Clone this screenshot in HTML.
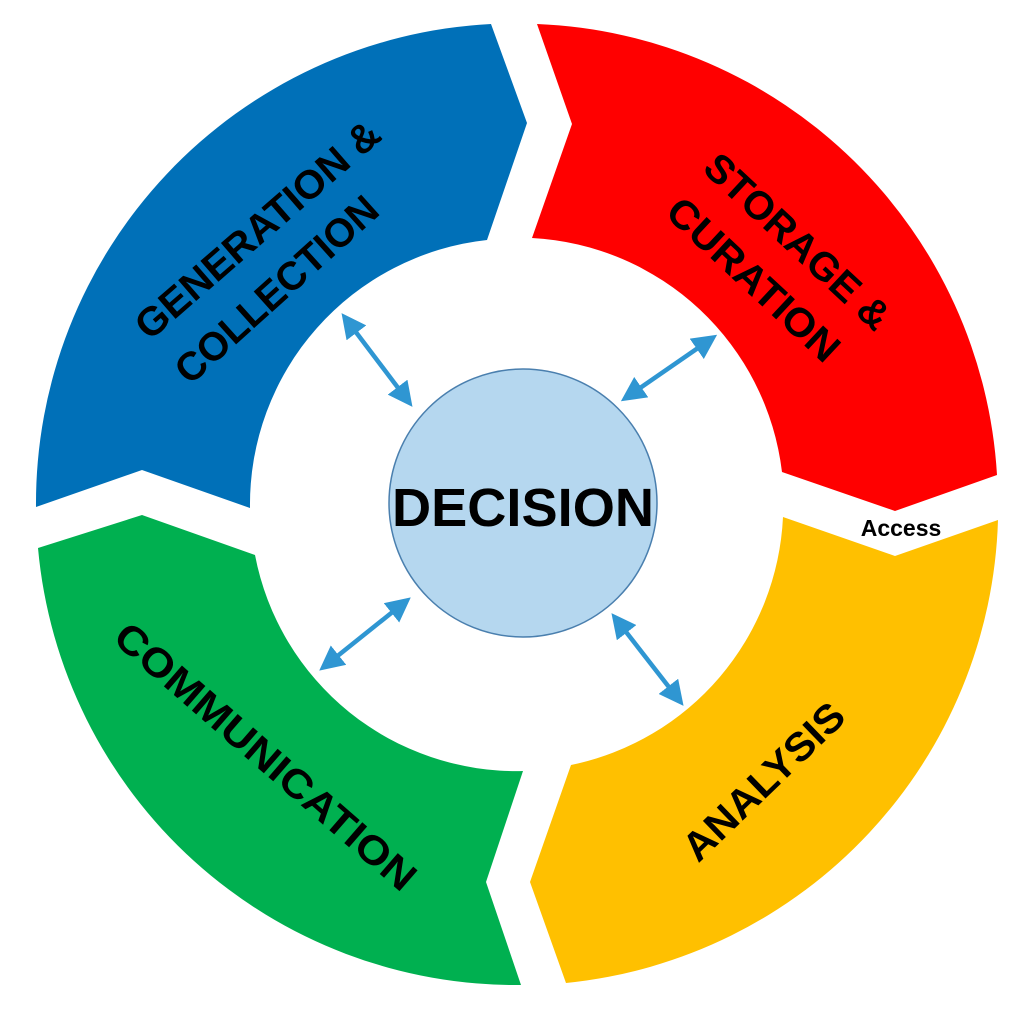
<!DOCTYPE html>
<html><head><meta charset="utf-8"><style>html,body{margin:0;padding:0;background:#fff;width:1024px;height:1024px;overflow:hidden}</style></head>
<body>
<svg width="1024" height="1024" viewBox="0 0 1024 1024" xmlns="http://www.w3.org/2000/svg">
<defs>
<marker id="ah" viewBox="0 0 10 10" refX="7" refY="5" markerWidth="5.5" markerHeight="5.5" orient="auto-start-reverse"><path d="M0,0 L10,5 L0,10 Z" fill="#2f96d2"/></marker>
</defs>
<path d="M36,507 L142,470 L250,508 A266 266 0 0 1 487,240 L527,123 L491,24 A480 480 0 0 0 36,507 Z" fill="#0070b8"/>
<path d="M537,24 L572,124 L532,238 A266 266 0 0 1 782,472 L895,511 L997,475 A480 480 0 0 0 537,24 Z" fill="#ff0000"/>
<path d="M998,520 L895,556 L783,517 A266 266 0 0 1 571,765 L530,882 L566,983 A480 480 0 0 0 998,520 Z" fill="#ffc000"/>
<path d="M521,985 L486,882 L523,771 A266 266 0 0 1 255,555 L142,515 L38,548 A480 480 0 0 0 521,985 Z" fill="#00b050"/>
<circle cx="523" cy="503" r="134" fill="#b5d7ef" stroke="#4a7fae" stroke-width="1.5"/>
<text x="523" y="508" text-anchor="middle" dominant-baseline="central" font-family="Liberation Sans, sans-serif" font-weight="bold" font-size="54" fill="#000" textLength="262" lengthAdjust="spacingAndGlyphs">DECISION</text>
<g stroke="#2f96d2" stroke-width="4.5" marker-start="url(#ah)" marker-end="url(#ah)">
<line x1="346" y1="319" x2="408" y2="401"/>
<line x1="711" y1="339" x2="627" y2="397"/>
<line x1="405" y1="602" x2="325" y2="666"/>
<line x1="616" y1="619" x2="679" y2="700"/>
</g>
<g font-family="Liberation Sans, sans-serif" font-weight="bold" font-size="40" fill="#000" text-anchor="middle" dominant-baseline="central">
<text transform="translate(258,230) rotate(-41)" textLength="310" lengthAdjust="spacingAndGlyphs">GENERATION &amp;</text>
<text transform="translate(277,290) rotate(-42)" textLength="258" lengthAdjust="spacingAndGlyphs">COLLECTION</text>
<text transform="translate(797,242) rotate(43)" textLength="238" lengthAdjust="spacingAndGlyphs">STORAGE &amp;</text>
<text transform="translate(753,280) rotate(43)" textLength="220" lengthAdjust="spacingAndGlyphs">CURATION</text>
<text transform="translate(265,757) rotate(41)" textLength="385" lengthAdjust="spacingAndGlyphs">COMMUNICATION</text>
<text transform="translate(764,782) rotate(-44)" textLength="208" lengthAdjust="spacingAndGlyphs">ANALYSIS</text>
</g>
<text x="901" y="528" text-anchor="middle" dominant-baseline="central" font-family="Liberation Sans, sans-serif" font-weight="bold" font-size="23" fill="#000">Access</text>
</svg>
</body></html>
